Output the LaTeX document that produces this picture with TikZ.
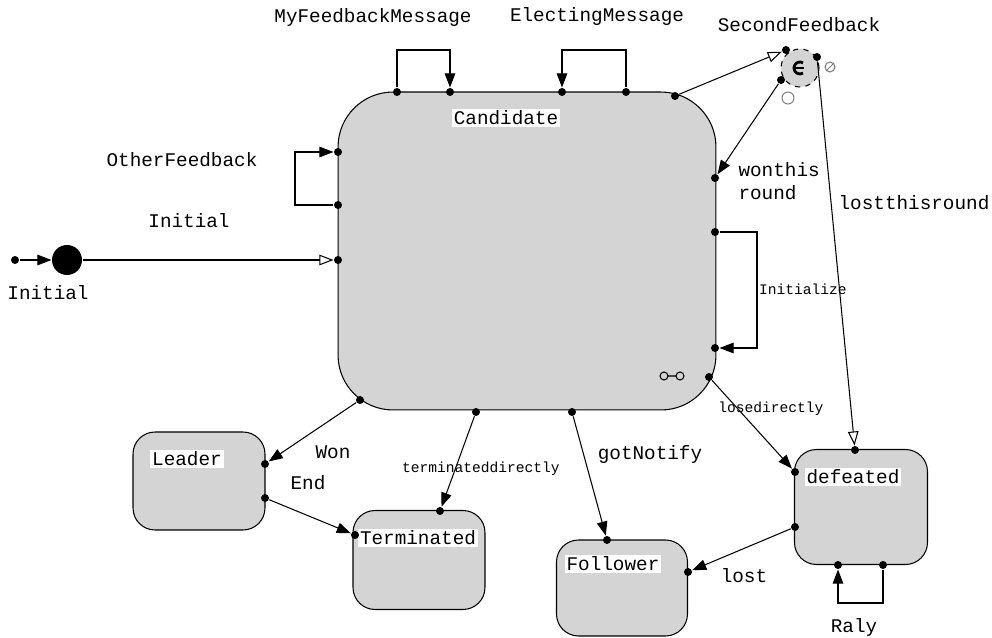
\documentclass[tikz,border=0pt]{standalone}
\usepackage{fontspec}
\setmonofont{Liberation Mono}
\usetikzlibrary{arrows.meta}
\definecolor{stategray}{RGB}{212,212,212}

\begin{document}
\begin{tikzpicture}[x=0.02cm,y=-0.02cm,>={Triangle[length=8pt,width=6pt]},line width=0.6pt,
  every node/.style={font=\ttfamily\fontsize{11}{13}\selectfont},
  small/.style={font=\ttfamily\fontsize{8.3}{10}\selectfont},
  state/.style={draw,fill=stategray,rounded corners=0.44cm,inner sep=0pt},
  title/.style={fill=white,inner sep=1pt},
  port/.style={circle,fill=black,inner sep=0pt,minimum size=0.16cm},
  open/.style={-{Triangle[open,length=8pt,width=6pt]}}]
\useasboundingbox (0,0) rectangle (992,638);

% States
\node[state,rounded corners=1.1cm,minimum width=7.56cm,minimum height=6.36cm] (cand) at (527,251) {};
\node[state,minimum width=2.64cm,minimum height=1.96cm] (leader) at (199,481) {};
\node[state,minimum width=2.64cm,minimum height=1.98cm] (term) at (419,560) {};
\node[state,minimum width=2.62cm,minimum height=1.92cm] (follow) at (622,588) {};
\node[state,minimum width=2.66cm,minimum height=2.30cm] (defeat) at (861,507) {};

\node[title] (candT) at (506,118) {Candidate};
\node[title] (leaderT) at (187,459) {Leader};
\node[title] (termT) at (418,538) {Terminated};
\node[title] (followT) at (613,564) {Follower};
\node[title] (defeatT) at (853,477) {defeated};

% Pseudo states
\node[circle,fill=black,inner sep=0pt,minimum size=0.6cm] (init) at (67,260) {};
\node[port] (i0) at (15,260) {};
\node[circle,draw,dashed,fill=stategray,inner sep=0pt,minimum size=0.76cm] (second) at (800,68) {};
\draw[line width=1.6pt] (803,62.8) arc[start angle=-60,end angle=-300,radius=6];
\draw[line width=1pt] (793,68) -- (804,68);
\draw[gray] (830,67) circle (5) (826,71) -- (834,63);
\draw[gray] (788,98) circle (6);
\draw (664,376) circle (4) (668,376) -- (676,376) (680,376) circle (4);

% Ports
\foreach \n/\x/\y in {pA/397/92,pB/450/92,pC/562/92,pD/626/92,pE/675/96,
  pF/338/152,pG/338/205,pH/338/260,pI/715/178,pJ/715/232,pK/715/348,pL/709/377,
  pM/360/400,pN/476/412,pO/572/412,q1/265/464,q2/265/498,t1/440/511,t2/355/535,
  f1/607/540,f2/688/572,d1/855/450,d2/795/472,d3/795/527,d4/838/565,d5/883/565,
  s1/786/50,s2/817/57,s3/781/80}
  \node[port] (\n) at (\x,\y) {};

% Transitions
\draw[->] (i0) -- (init);
\draw[open] (init) -- (pH);
\draw[->] (pA) -- ++(0,-42) -| (pB);
\draw[->] (pD) -- ++(0,-42) -| (pC);
\draw[->] (pG) -- ++(-43,0) |- (pF);
\draw[->] (pJ) -- ++(42,0) |- (pK);
\draw[->] (d5) -- ++(0,38) -| (d4);
\draw[open] (pE) -- (s1);
\draw[->] (s3) -- (pI);
\draw[open] (s2) -- (d1);
\draw[->] (pL) -- (d2);
\draw[->] (pM) -- (q1);
\draw[->] (q2) -- (t2);
\draw[->] (pN) -- (t1);
\draw[->] (pO) -- (f1);
\draw[->] (d3) -- (f2);

% Labels
\node (lMy) at (373,18) {MyFeedbackMessage};
\node (lEl) at (597,17) {ElectingMessage};
\node (lSe) at (799,25) {SecondFeedback};
\node (lOt) at (182,160) {OtherFeedback};
\node (lIn) at (189,221) {Initial};
\node (lIs) at (48,293) {Initial};
\node[anchor=west,align=left,inner sep=0pt] (lWo) at (738,181) {wonthis\\round};
\node (lLt) at (914,203) {lostthisround};
\node[small] (lIz) at (803,289) {Initialize};
\node[small] (lLd) at (771,409) {losedirectly};
\node (lWn) at (333,452) {Won};
\node (lEn) at (308,483) {End};
\node[small] (lTd) at (481,469) {terminateddirectly};
\node (lGo) at (650,455) {gotNotify};
\node (lLo) at (744,576) {lost};
\node (lRa) at (854,628) {Raly};
\end{tikzpicture}
\end{document}
